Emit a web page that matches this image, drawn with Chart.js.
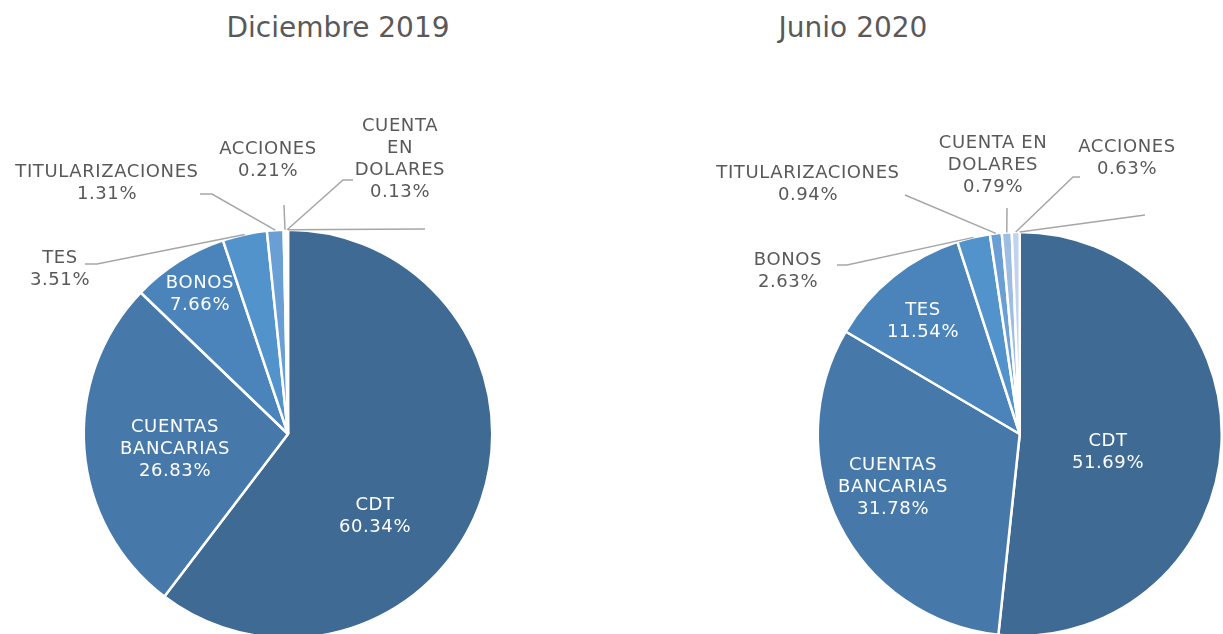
<!DOCTYPE html>
<html>
<head>
<meta charset="utf-8">
<script src="https://cdn.jsdelivr.net/npm/chart.js@4.4.0/dist/chart.umd.min.js"></script>
<style>
  body { margin: 0; background: #fff; width: 1223px; height: 634px; overflow: hidden; position: relative; }
  .title { position: absolute; top: 11px; font-family: "DejaVu Sans", Verdana, sans-serif; font-size: 28px; color: #595959; transform: translateX(-50%); white-space: nowrap; }
  canvas { position: absolute; top: 0; }
</style>
</head>
<body>
<div class="title" style="left:338px">Diciembre 2019</div>
<div class="title" style="left:853px">Junio 2020</div>
<canvas id="pie-dic" width="611" height="700" style="left:0"></canvas>
<canvas id="pie-jun" width="612" height="700" style="left:611px"></canvas>
<script>
// Diciembre 2019
const catsDic = ["CDT", "CUENTAS BANCARIAS", "BONOS", "TES", "TITULARIZACIONES", "ACCIONES", "CUENTA EN DOLARES", ""];
const valsDic = [60.34, 26.83, 7.66, 3.51, 1.31, 0.21, 0.13, 0];
const wrapDic = [["CDT"], ["CUENTAS", "BANCARIAS"], ["BONOS"], ["TES"], ["TITULARIZACIONES"], ["ACCIONES"], ["CUENTA", "EN", "DOLARES"], []];

// Junio 2020
const catsJun = ["CDT", "CUENTAS BANCARIAS", "TES", "BONOS", "TITULARIZACIONES", "CUENTA EN DOLARES", "ACCIONES", ""];
const valsJun = [51.69, 31.78, 11.54, 2.63, 0.94, 0.79, 0.63, 0];
const wrapJun = [["CDT"], ["CUENTAS", "BANCARIAS"], ["TES"], ["BONOS"], ["TITULARIZACIONES"], ["CUENTA EN", "DOLARES"], ["ACCIONES"], []];

const sliceColors = ["#3E6A94", "#4679A9", "#4A84BB", "#5393CC", "#6A9FD6", "#9DBDE3", "#BFD3EE", "#D6E3F4"];

// label placement (top line centre) and leader lines, canvas coords
const layoutDic = {
  pos: [[375, 505], [175, 427], [200, 283], [60, 258], [107, 172], [268, 149], [400, 126], null],
  inside: [true, true, true, false, false, false, false, false],
  leaders: [null, null, null, [[85, 264], [97, 264]], [[200, 194], [212, 194]], [[284, 205]], [[353, 180], [343, 180]], [[425, 229]]]
};
const layoutJun = {
  pos: [[497, 441], [282, 465], [312, 310], [177, 260], [197, 173], [382, 143], [516, 147], null],
  inside: [true, true, true, false, false, false, false, false],
  leaders: [null, null, null, [[226, 265], [236, 265]], [[294, 195]], [[396, 208]], [[469, 177], [462, 177]], [[534, 215]]]
};

const pieLabels = {
  id: "pieLabels",
  afterDatasetsDraw(chart, args, opts) {
    const ctx = chart.ctx;
    const lay = opts.layout;
    const vals = chart.data.datasets[0].data;
    const arcs = chart.getDatasetMeta(0).data;
    ctx.save();
    // leader lines
    ctx.strokeStyle = "#A6A6A6";
    ctx.lineWidth = 1.5;
    arcs.forEach((arc, i) => {
      const pts = lay.leaders[i];
      if (!pts) return;
      const p = arc.getProps(["x", "y", "startAngle", "endAngle", "outerRadius"]);
      const mid = (p.startAngle + p.endAngle) / 2;
      ctx.beginPath();
      ctx.moveTo(pts[0][0], pts[0][1]);
      for (let k = 1; k < pts.length; k++) ctx.lineTo(pts[k][0], pts[k][1]);
      ctx.lineTo(p.x + Math.cos(mid) * p.outerRadius, p.y + Math.sin(mid) * p.outerRadius);
      ctx.stroke();
    });
    // text
    ctx.font = "18px 'DejaVu Sans', Verdana, sans-serif";
    ctx.letterSpacing = "0.6px";
    ctx.textAlign = "center";
    ctx.textBaseline = "middle";
    arcs.forEach((arc, i) => {
      const pos = lay.pos[i];
      if (!pos) return;
      const lines = opts.wrap[i].concat([vals[i].toFixed(2) + "%"]);
      ctx.fillStyle = lay.inside[i] ? "#FFFFFF" : "#595959";
      lines.forEach((t, k) => ctx.fillText(t, pos[0], pos[1] + k * 22));
    });
    ctx.restore();
  }
};

function makePie(id, cats, vals, wrap, lay, pad) {
  return new Chart(document.getElementById(id), {
    type: "pie",
    data: {
      labels: cats,
      datasets: [{
        data: vals,
        backgroundColor: sliceColors,
        borderColor: "#FFFFFF",
        borderWidth: 2.5
      }]
    },
    options: {
      responsive: false,
      animation: false,
      layout: { padding: pad },
      plugins: {
        legend: { display: false },
        tooltip: { enabled: false },
        pieLabels: { layout: lay, wrap: wrap }
      }
    },
    plugins: [pieLabels]
  });
}

let chartDic = makePie("pie-dic", catsDic, valsDic, wrapDic, layoutDic, { left: 82.5, right: 117.5, top: 228.5, bottom: 60.5 });
let chartJun = makePie("pie-jun", catsJun, valsJun, wrapJun, layoutJun, { left: 205.5, right: -0.5, top: 229.5, bottom: 61.5 });
</script>
</body>
</html>
